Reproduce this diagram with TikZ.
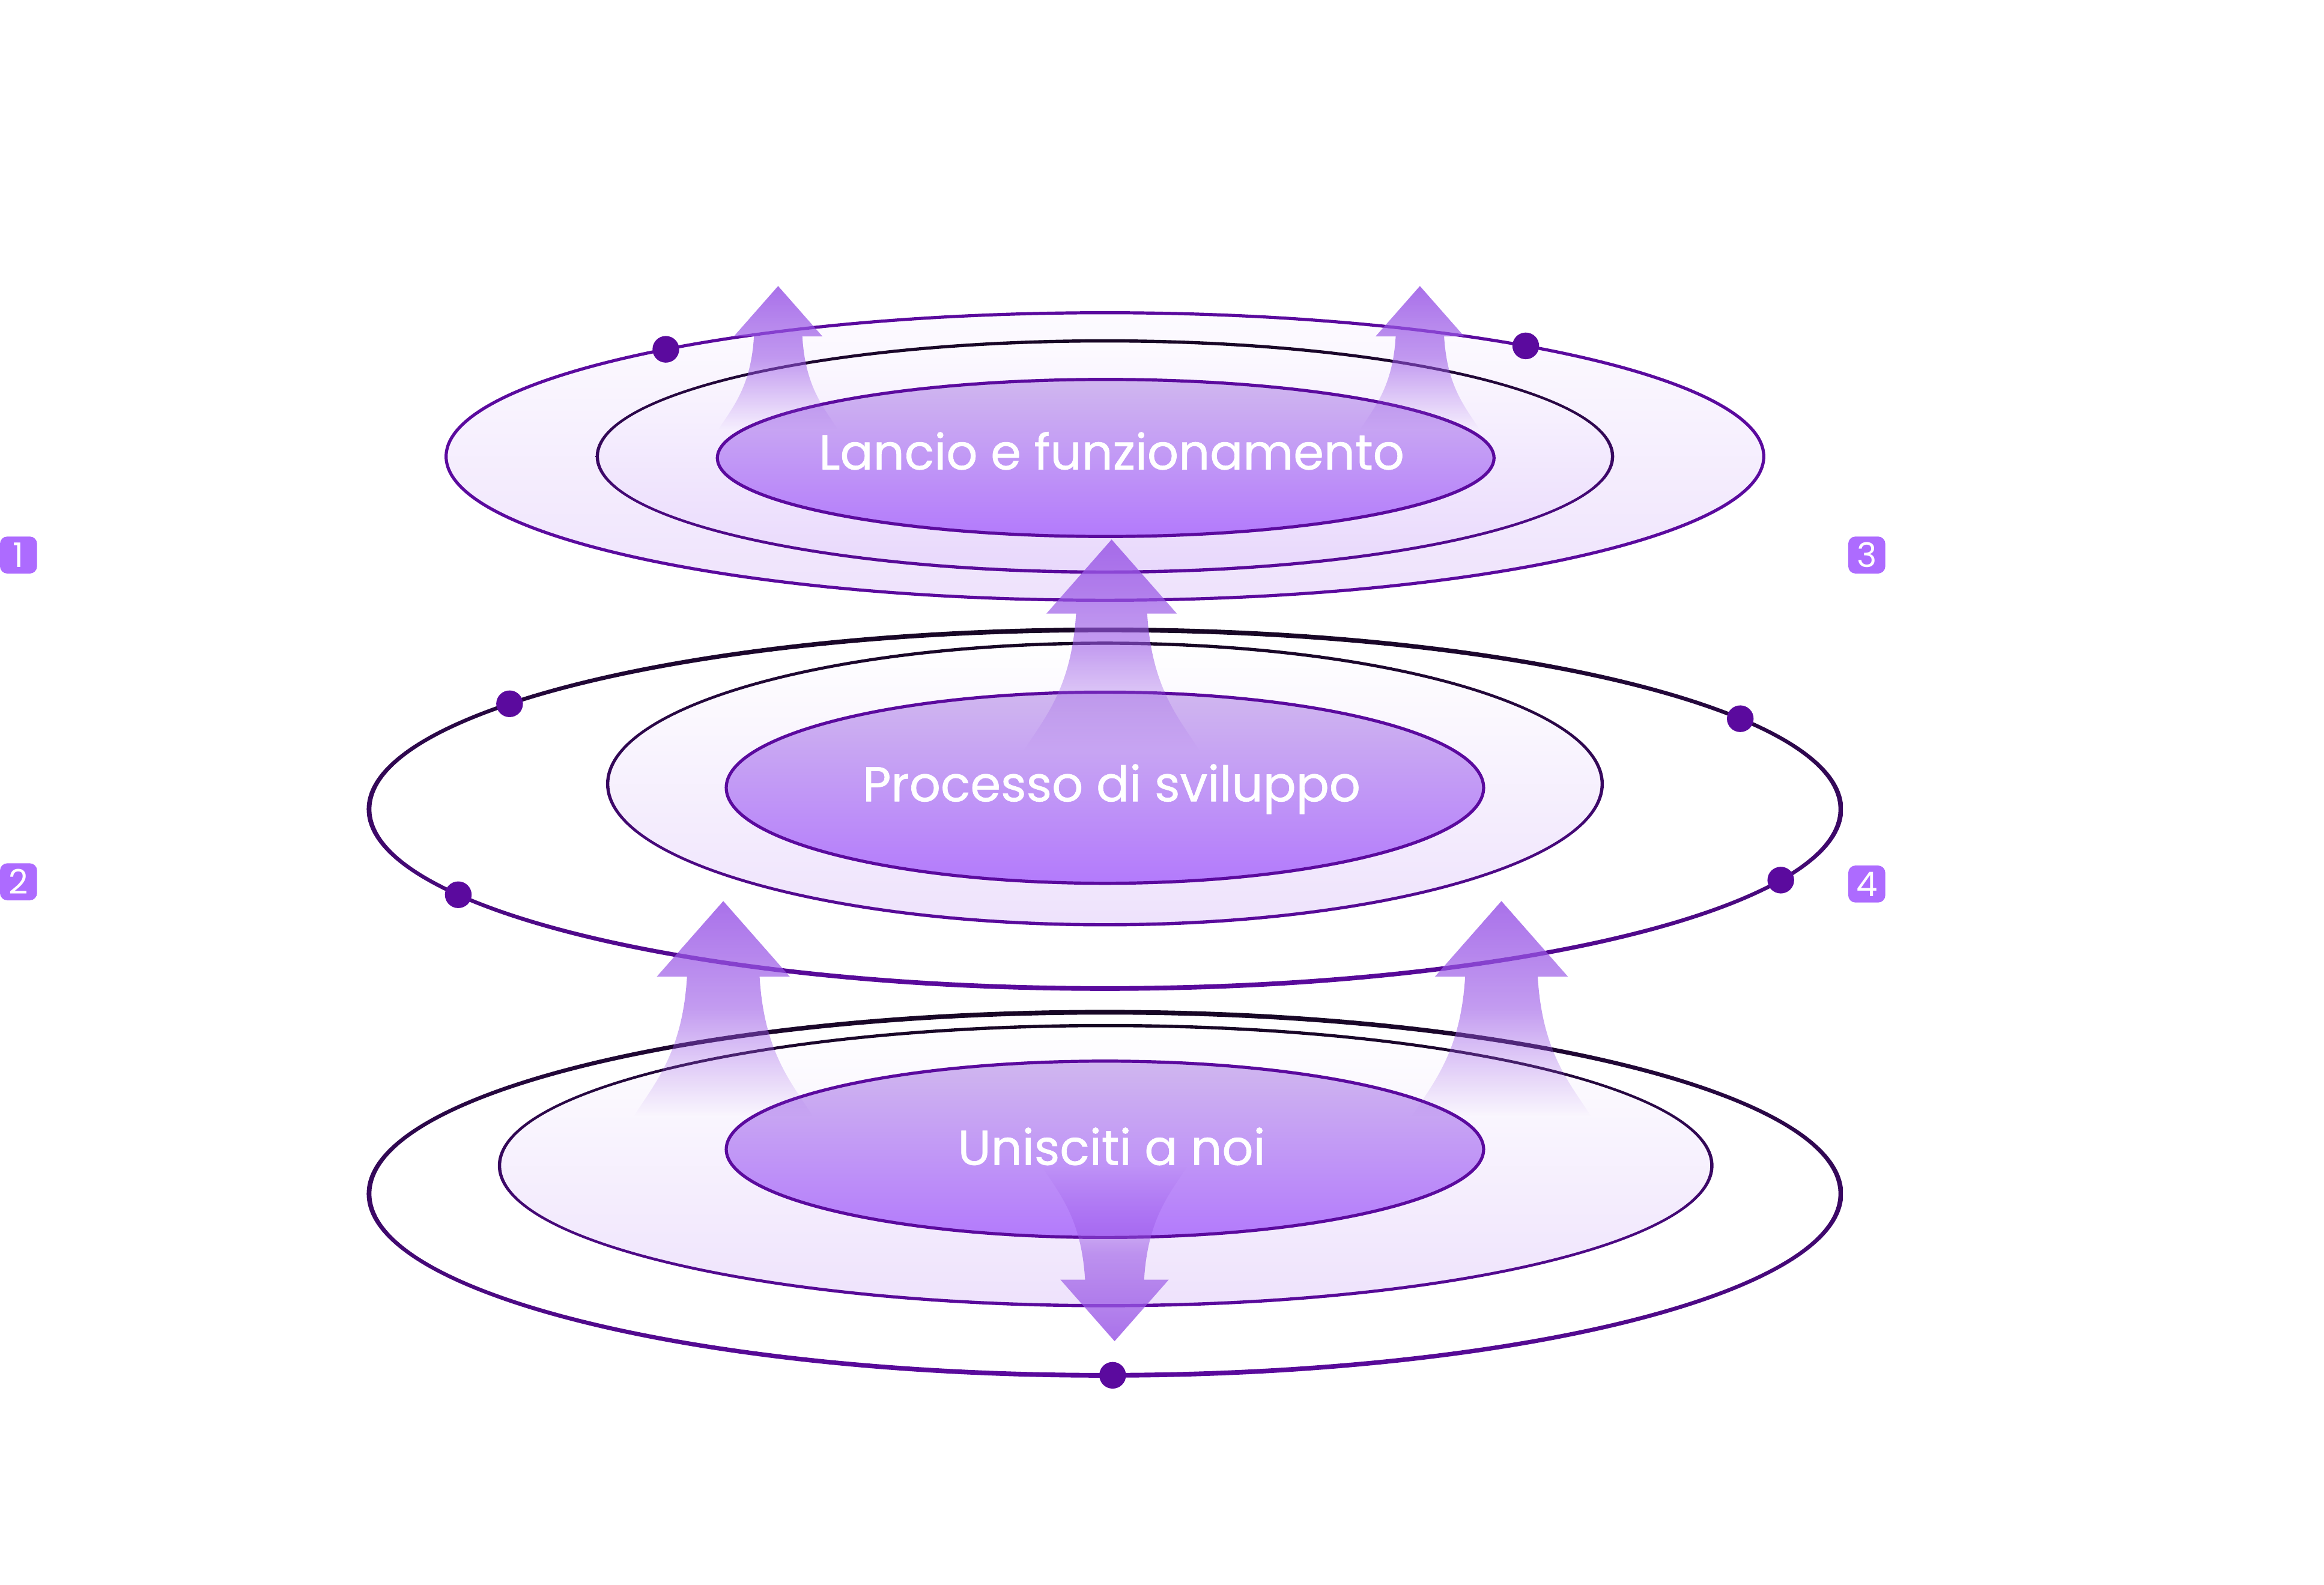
\documentclass[tikz,border=0pt]{standalone}
\usepackage{fontspec}
\setmainfont{Poppins}[BoldFont=Poppins, BoldFeatures={FakeBold=0.8}]
\usetikzlibrary{fadings}

\definecolor{ringpurple}{HTML}{5B0A9E}
\definecolor{ringdark}{HTML}{170624}
\definecolor{hazetop}{HTML}{FDFBFF}
\definecolor{hazebottom}{HTML}{EEE2FC}
\definecolor{coretop}{HTML}{D0B7EF}
\definecolor{corebottom}{HTML}{B37AFC}
\definecolor{riserfill}{HTML}{9A58E6}
\definecolor{badgefill}{HTML}{AD6BFF}

\tikzfading[name=riseup, top color=transparent!0, bottom color=transparent!100, middle color=transparent!30]
\tikzfading[name=sinkdown, top color=transparent!100, bottom color=transparent!0, middle color=transparent!30]

\newcommand{\ring}[4]{\shade[top color=ringdark, bottom color=ringpurple, even odd rule]
  #1 ellipse [x radius=#2+#4, y radius=#3+#4] #1 ellipse [x radius=#2-#4, y radius=#3-#4];}
\newcommand{\riser}[4]{\fill[riserfill, fill opacity=0.85, path fading=#4, shift={#1}, rotate=#3, scale=#2]
  (0,0) -- (44,-50) -- (24,-50) .. controls (27,-100) and (45,-120) .. (59,-142)
  -- (-59,-142) .. controls (-45,-120) and (-27,-100) .. (-24,-50) -- (-44,-50) -- cycle;}

\begin{document}
\begin{tikzpicture}[x=0.1mm, y=0.1mm]
		\tikzstyle{every node}+=[inner sep=0pt]
		\tikzstyle{stage}=[text=white, font=\fontsize{9.4}{11}\selectfont\bfseries, anchor=base]
		\tikzstyle{badge}=[fill=badgefill, text=white, rounded corners=1.4pt, minimum size=0.25cm, font=\fontsize{6.5}{7}\selectfont]
		\useasboundingbox (0,0) rectangle (1568,-1069.1);
		% top layer
		\draw [ringpurple, line width=0.6pt, top color=hazetop, bottom color=hazebottom] (745.5,-308) ellipse (444.5 and 97);
		\shade [top color=hazetop, bottom color=hazebottom!90!corebottom] (745.5,-308) ellipse (342.5 and 78);
		\ring{(745.5,-308)}{342.5}{78}{1.1}
		\draw [ringpurple, line width=0.6pt, top color=coretop, bottom color=corebottom] (746,-309) ellipse (262 and 53);
		% middle layer
		\ring{(745.5,-546)}{496.5}{121}{1.6}
		\shade [top color=white, bottom color=hazebottom] (745.5,-529) ellipse (335.5 and 95);
		\ring{(745.5,-529)}{335.5}{95}{1.1}
		\draw [ringpurple, line width=0.6pt, top color=coretop, bottom color=corebottom] (745.5,-531.5) ellipse (255.5 and 64.5);
		% bottom layer
		\ring{(745.5,-805.5)}{496.5}{122.5}{1.6}
		\shade [top color=white, bottom color=hazebottom] (746,-786.5) ellipse (409 and 94.5);
		\ring{(746,-786.5)}{409}{94.5}{1.1}
		\draw [ringpurple, line width=0.6pt, top color=coretop, bottom color=corebottom] (745.5,-775.5) ellipse (255.5 and 59.5);
		% arrows
		\riser{(525,-193)}{0.68}{0}{riseup}
		\riser{(958,-193)}{0.68}{0}{riseup}
		\riser{(750,-364)}{1}{0}{riseup}
		\riser{(488,-608)}{1.02}{0}{riseup}
		\riser{(1013,-608)}{1.02}{0}{riseup}
		\riser{(752,-905)}{0.83}{180}{sinkdown}
		% dots
		\foreach \a in {131.8,50.3}
			\fill [ringpurple] (745.5,-308) +(\a:444.5 and 97) circle (9);
		\foreach \a in {144,30.3,208.5,336.7}
			\fill [ringpurple] (745.5,-546) +(\a:496.5 and 121) circle (9);
		\fill [ringpurple] (745.5,-805.5) +(270.6:496.5 and 122.5) circle (9);
		% labels
		\node [stage] (launch) at (750,-316.7) {Lancio e funzionamento};
		\node [stage] (develop) at (750,-540.7) {Processo di sviluppo};
		\node [stage] (join) at (750,-786) {Unisciti a noi};
		\node [badge] (step1) at (12.5,-374.5) {1};
		\node [badge] (step2) at (12.5,-595) {2};
		\node [badge] (step3) at (1259.5,-374.5) {3};
		\node [badge] (step4) at (1259.5,-596.5) {4};
\end{tikzpicture}
\end{document}
